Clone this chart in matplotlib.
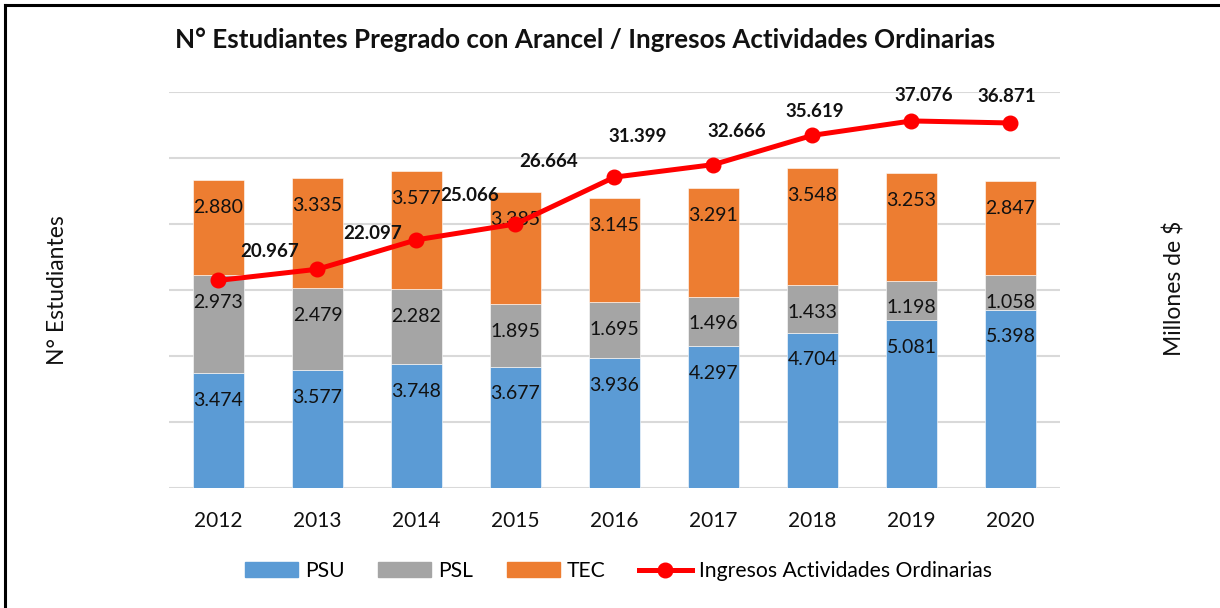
import matplotlib
matplotlib.use("Agg")
import matplotlib.pyplot as plt
from matplotlib.patches import Patch
from matplotlib.lines import Line2D
import numpy as np

plt.rcParams['font.family'] = ['Lato', 'DejaVu Sans']

years = ["2012", "2013", "2014", "2015", "2016", "2017", "2018", "2019", "2020"]
psu = [3474, 3577, 3748, 3677, 3936, 4297, 4704, 5081, 5398]
psl = [2973, 2479, 2282, 1895, 1695, 1496, 1433, 1198, 1058]
tec = [2880, 3335, 3577, 3385, 3145, 3291, 3548, 3253, 2847]
ingresos = [20967, 22097, 25066, 26664, 31399, 32666, 35619, 37076, 36871]

# label offsets (points) for line labels, as placed in the original
line_lbl_off = [(37, 21), (40, 26), (38, 32), (24, 45), (17, 29), (17, 24), (2, 17), (9, 18), (-3, 19)]

def fmt(v):
    return f"{v:,}".replace(",", ".")

fig = plt.figure(figsize=(12.2, 6.08), dpi=100)
ax = fig.add_axes([0.1385, 0.1974, 0.7303, 0.6513])
ax2 = ax.twinx()

x = np.arange(len(years))
w = 0.51
c_psu, c_psl, c_tec = "#5B9BD5", "#A5A5A5", "#ED7D31"
b1 = ax.bar(x, psu, w, color=c_psu, edgecolor="white", linewidth=0.4, zorder=2)
bot2 = np.array(psu)
b2 = ax.bar(x, psl, w, bottom=bot2, color=c_psl, edgecolor="white", linewidth=0.4, zorder=2)
bot3 = bot2 + np.array(psl)
b3 = ax.bar(x, tec, w, bottom=bot3, color=c_tec, edgecolor="white", linewidth=0.4, zorder=2)

for bars, vals in ((b1, psu), (b2, psl), (b3, tec)):
    for r, v in zip(bars, vals):
        top = r.get_y() + r.get_height()
        ax.annotate(fmt(v), (r.get_x() + r.get_width() / 2, top), xytext=(0, -19.5),
                    textcoords="offset points", ha="center", va="center",
                    fontsize=14, color="#111111", zorder=3)

ax.set_ylim(0, 12000)
ax.set_xlim(-0.5, len(years) - 0.5)
ax.set_yticks(np.arange(0, 12001, 2000))
ax.yaxis.grid(True, color="#D9D9D9", linewidth=1.5, zorder=0)
ax.set_axisbelow(True)
ax.tick_params(axis="y", left=False, labelleft=False)
ax.set_xticks(x)
ax.set_xticklabels(years, fontsize=15, color="#111111")
ax.tick_params(axis="x", bottom=False, pad=13)
for s in ax.spines.values():
    s.set_visible(False)

ax2.plot(x, ingresos, color="#FF0000", linewidth=3.6, marker="o", markersize=10.5,
         solid_capstyle="round", zorder=5)
for xi, v, off in zip(x, ingresos, line_lbl_off):
    ax2.annotate(fmt(v), (xi, v), xytext=off, textcoords="offset points",
                 ha="center", va="center", fontsize=13.5, fontweight="bold", color="#111111")
ax2.set_ylim(0, 40000)
ax2.tick_params(axis="y", right=False, labelright=False)
for s in ax2.spines.values():
    s.set_visible(False)

fig.text(0.4795, 0.934, "N° Estudiantes Pregrado con Arancel / Ingresos Actividades Ordinarias",
         ha="center", va="center", fontsize=18.7, fontweight="bold", color="#111111")
fig.text(0.047, 0.523, "N° Estudiantes", rotation=90, ha="center", va="center",
         fontsize=16.5, color="#111111")
fig.text(0.963, 0.526, "Millones de $", rotation=90, ha="center", va="center",
         fontsize=16.5, color="#111111")

handles = [Patch(color=c_psu, label="PSU"), Patch(color=c_psl, label="PSL"),
           Patch(color=c_tec, label="TEC"),
           Line2D([], [], color="#FF0000", linewidth=3.6, marker="o", markersize=10.5,
                  label="Ingresos Actividades Ordinarias")]
fig.legend(handles=handles, loc="center", bbox_to_anchor=(0.507, 0.061), ncol=4,
           frameon=False, fontsize=15.2, handlelength=2.5, handleheight=0.7,
           columnspacing=1.6, handletextpad=0.33)

# outer border (left and top edges)
fig.add_artist(Line2D([0.0045, 0.0045], [0, 0.9918], transform=fig.transFigure,
                      color="black", linewidth=2.2))
fig.add_artist(Line2D([0.0045, 1.0], [0.9918, 0.9918], transform=fig.transFigure,
                      color="black", linewidth=2.2))

fig.savefig("out.png", dpi=100, facecolor="white")
